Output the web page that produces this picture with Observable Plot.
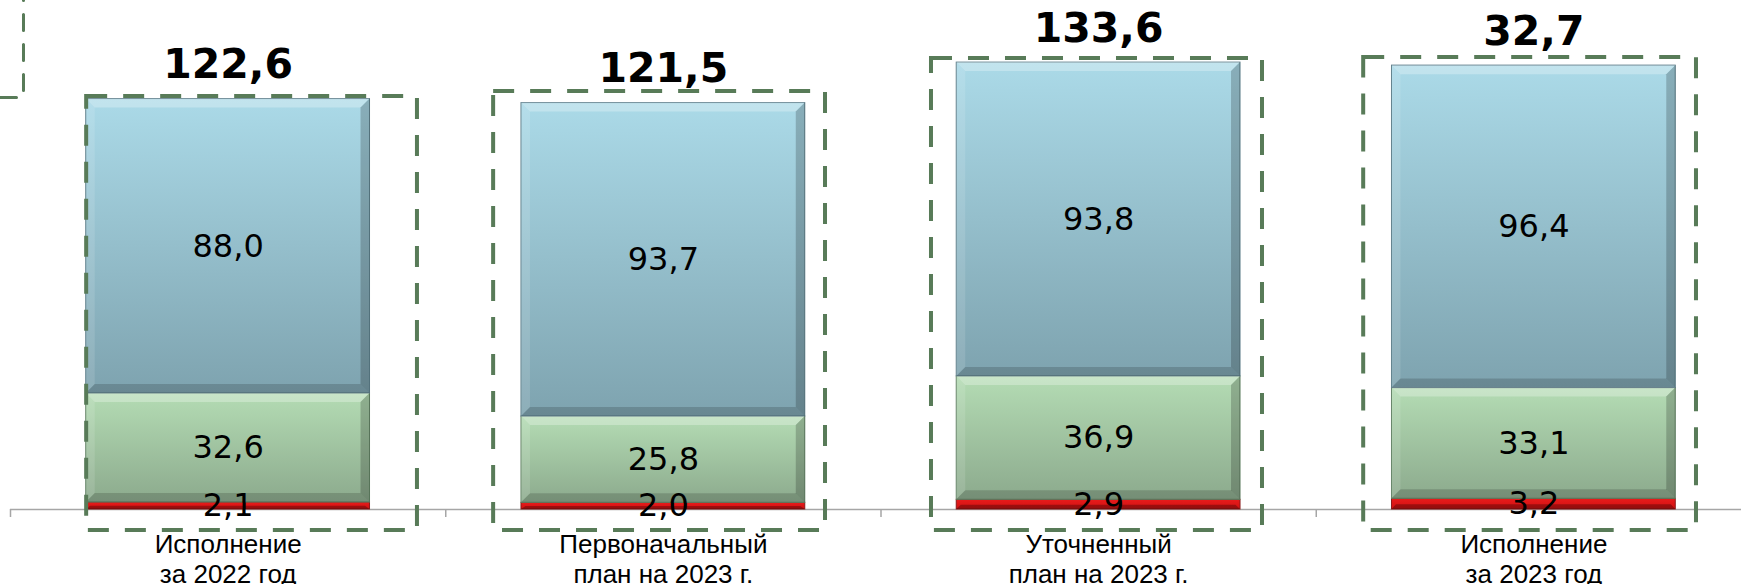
<!DOCTYPE html>
<html>
<head>
<meta charset="utf-8">
<script src="https://cdn.jsdelivr.net/npm/d3@7"></script>
<script src="https://cdn.jsdelivr.net/npm/@observablehq/plot@0.6"></script>
<style>
  html, body { margin: 0; padding: 0; background: #ffffff; }
  #chart { width: 1741px; height: 584px; overflow: hidden; }
</style>
</head>
<body>
<div id="chart"></div>
<script>
// ---------- DATA ----------
const categories = [
  "Исполнение\nза 2022 год",
  "Первоначальный\nплан на 2023 г.",
  "Уточненный\nплан на 2023 г.",
  "Исполнение\nза 2023 год"
];
const seriesRed   = [2.1, 2.0, 2.9, 3.2];
const seriesGreen = [32.6, 25.8, 36.9, 33.1];
const seriesBlue  = [88.0, 93.7, 93.8, 96.4];
const totalLabels = ["122,6", "121,5", "133,6", "32,7"];

// ---------- LAYOUT (scale units) ----------
const W = 1741, H = 584;
const xDomain = [-0.52298, 3.47702];
const yDomain = [-22.42, 152.17];
const halfBar = 0.326;
const pxX = W / (xDomain[1] - xDomain[0]);
const pxY = H / (yDomain[1] - yDomain[0]);
const bevX = 9 / pxX, bevY = 9 / pxY;
// dashed highlight frames around each column: [left, right] relative to column, top value
const frameLeft  = [-0.325, -0.390, -0.384, -0.391];
const frameRight = [0.435, 0.3725, 0.3765, 0.3736];
const frameTop   = [123.5, 125.0, 134.8, 135.1];
const frameBottom = -6.28;
const boundaries = [-0.5, 0.5, 1.5, 2.5, 3.5];

const keys = ["red", "green", "blue"];
const rows = categories.map((c, i) => ({i, red: seriesRed[i], green: seriesGreen[i], blue: seriesBlue[i]}));
const stacked = d3.stack().keys(keys)(rows);
const segments = stacked.flatMap(layer => layer.map(p => ({
  key: layer.key, i: p.data.i, y1: p[0], y2: p[1], value: p.data[layer.key],
  x1: p.data.i - halfBar, x2: p.data.i + halfBar, id: layer.key + p.data.i
})));
const tops = rows.map((r, i) => ({i, top: r.red + r.green + r.blue, label: totalLabels[i]}));
const frames = categories.map((c, i) => ({x1: i + frameLeft[i], x2: i + frameRight[i], y1: frameBottom, y2: frameTop[i]}));

// bevel polygons
const main = segments.filter(d => d.key !== "red");
const reds = segments.filter(d => d.key === "red");
const topBev = main.flatMap(d => [
  {id: d.id, x: d.x1, a: d.y2, b: d.y2},
  {id: d.id, x: d.x1 + bevX, a: d.y2 - bevY, b: d.y2},
  {id: d.id, x: d.x2 - bevX, a: d.y2 - bevY, b: d.y2},
  {id: d.id, x: d.x2, a: d.y2, b: d.y2}
]);
const botBev = main.flatMap(d => [
  {id: d.id, x: d.x1, a: d.y1, b: d.y1},
  {id: d.id, x: d.x1 + bevX, a: d.y1, b: d.y1 + bevY},
  {id: d.id, x: d.x2 - bevX, a: d.y1, b: d.y1 + bevY},
  {id: d.id, x: d.x2, a: d.y1, b: d.y1}
]);
const leftBev = main.flatMap(d => [
  {id: d.id, y: d.y1, a: d.x1, b: d.x1},
  {id: d.id, y: d.y1 + bevY, a: d.x1, b: d.x1 + bevX},
  {id: d.id, y: d.y2 - bevY, a: d.x1, b: d.x1 + bevX},
  {id: d.id, y: d.y2, a: d.x1, b: d.x1}
]);
const rightBev = main.flatMap(d => [
  {id: d.id, y: d.y1, a: d.x2, b: d.x2},
  {id: d.id, y: d.y1 + bevY, a: d.x2 - bevX, b: d.x2},
  {id: d.id, y: d.y2 - bevY, a: d.x2 - bevX, b: d.x2},
  {id: d.id, y: d.y2, a: d.x2, b: d.x2}
]);
const redBot = reds.flatMap(d => {
  const h = (d.y2 - d.y1) * 0.45;
  return [
    {id: d.id, x: d.x1, a: d.y1, b: d.y1},
    {id: d.id, x: d.x1 + bevX * 0.5, a: d.y1, b: d.y1 + h},
    {id: d.id, x: d.x2 - bevX * 0.5, a: d.y1, b: d.y1 + h},
    {id: d.id, x: d.x2, a: d.y1, b: d.y1}
  ];
});

const fmt = v => d3.format(".1f")(v).replace(".", ",");
const fill = {red: "url(#gRed)", green: "url(#gGreen)", blue: "url(#gBlue)"};
const edge = {red: "#8a1a1a", green: "#5f7f62", blue: "#5b7c88"};
const frameColor = "#587b58";
const axisColor = "#a6a6a6";

const plot = Plot.plot({
  width: W, height: H,
  marginTop: 0, marginRight: 0, marginBottom: 0, marginLeft: 0,
  style: {background: "#ffffff", overflow: "visible"},
  x: {domain: xDomain, axis: null},
  y: {domain: yDomain, axis: null},
  marks: [
    Plot.ruleY([0], {x1: boundaries[0], x2: boundaries[boundaries.length - 1], stroke: axisColor, strokeWidth: 1.5}),
    Plot.ruleX(boundaries, {x: d => d, y1: 0, y2: -8 / pxY, stroke: axisColor, strokeWidth: 1.5}),
    ...keys.map(k => Plot.rect(segments.filter(d => d.key === k), {
      x1: "x1", x2: "x2", y1: "y1", y2: "y2", fill: fill[k], stroke: edge[k], strokeWidth: 1
    })),
    Plot.areaY(topBev, {x: "x", y1: "a", y2: "b", z: "id", fill: "#ffffff", fillOpacity: 0.28, curve: "linear"}),
    Plot.areaX(leftBev, {y: "y", x1: "a", x2: "b", z: "id", fill: "#ffffff", fillOpacity: 0.12, curve: "linear"}),
    Plot.areaX(rightBev, {y: "y", x1: "a", x2: "b", z: "id", fill: "#000000", fillOpacity: 0.2, curve: "linear"}),
    Plot.areaY(botBev, {x: "x", y1: "a", y2: "b", z: "id", fill: "#000000", fillOpacity: 0.16, curve: "linear"}),
    Plot.areaY(redBot, {x: "x", y1: "a", y2: "b", z: "id", fill: "#000000", fillOpacity: 0.28, curve: "linear"}),
    Plot.rect(frames, {x1: "x1", x2: "x2", y1: "y1", y2: "y2", fill: "none", stroke: frameColor, strokeWidth: 4, strokeDasharray: "21,16"}),
    Plot.line([{x: xDomain[0], y: 123.17}, {x: -0.47014, y: 123.17}, {x: -0.47014, y: 153}],
      {x: "x", y: "y", stroke: frameColor, strokeWidth: 3, strokeDasharray: "16,14", curve: "linear"}),
    Plot.text(segments, {x: "i", y: d => (d.y1 + d.y2) / 2, text: d => fmt(d.value), lineAnchor: "middle",
      fontSize: 32, fontFamily: "DejaVu Sans", fill: "#000000"}),
    Plot.text(tops, {x: "i", y: "top", text: "label", dy: -21, lineAnchor: "bottom",
      fontSize: 41, fontWeight: "bold", fontFamily: "DejaVu Sans", fill: "#000000"}),
    Plot.text(categories, {x: (d, i) => i, y: 0, text: d => d, dy: 22, lineAnchor: "top", lineHeight: 30 / 26,
      fontSize: 26, fontFamily: "Liberation Sans", fill: "#000000"})
  ]
});

plot.insertAdjacentHTML("afterbegin", `
<defs>
  <linearGradient id="gBlue" x1="0" y1="0" x2="0" y2="1">
    <stop offset="0" stop-color="#abdae8"/>
    <stop offset="1" stop-color="#7ea3af"/>
  </linearGradient>
  <linearGradient id="gGreen" x1="0" y1="0" x2="0" y2="1">
    <stop offset="0" stop-color="#b4dcb4"/>
    <stop offset="1" stop-color="#8caa8d"/>
  </linearGradient>
  <linearGradient id="gRed" x1="0" y1="0" x2="0" y2="1">
    <stop offset="0" stop-color="#e81c1c"/>
    <stop offset="1" stop-color="#d01010"/>
  </linearGradient>
</defs>`);
document.getElementById("chart").appendChild(plot);
</script>
</body>
</html>
